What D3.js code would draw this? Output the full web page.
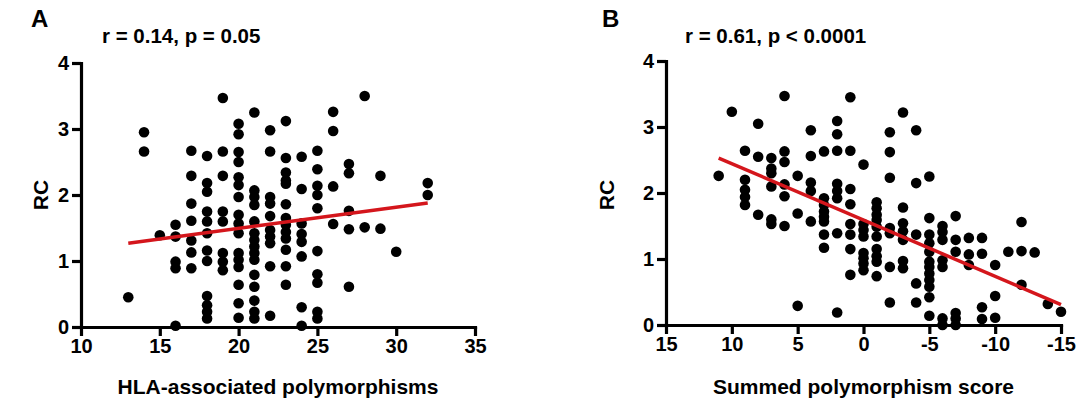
<!DOCTYPE html>
<html><head><meta charset="utf-8">
<script src="https://cdn.jsdelivr.net/npm/d3@7"></script>
<style>
body{margin:0;background:#fff;}
text{font-family:"Liberation Sans",Arial,sans-serif;font-weight:bold;fill:#000;}
</style></head>
<body>
<svg id="c" width="1081" height="402"></svg>
<script>
// ---------- Panel A data (HLA-associated polymorphisms vs RC) ----------
const aCols = [13,14,15,16,17,18,19,20,21,22,23,24,25,26,27,28,29,30,32];
const aRC = [
  [0.45],
  [2.95,2.66],
  [1.39],
  [1.55,1.37,0.99,0.89,0.02],
  [2.67,2.29,1.87,1.61,1.31,1.13,0.89],
  [2.59,2.18,2.05,1.75,1.60,1.42,1.16,1.00,0.47,0.33,0.23,0.13],
  [3.47,2.66,2.29,1.75,1.60,1.12,0.99,0.86],
  [3.08,2.92,2.65,2.50,2.27,2.15,1.97,1.70,1.57,1.42,1.12,1.02,0.91,0.64,0.36,0.14],
  [3.25,2.07,1.97,1.85,1.60,1.42,1.32,1.22,1.12,1.02,0.79,0.61,0.40,0.23,0.13],
  [2.98,2.66,1.97,1.87,1.68,1.47,1.37,1.27,0.92,0.17],
  [3.12,2.56,2.34,2.22,2.17,1.86,1.65,1.55,1.44,1.34,1.17,0.92,0.64],
  [2.58,2.09,1.57,1.41,1.29,1.07,0.30,0.02],
  [2.67,2.39,2.14,2.00,1.80,1.15,0.80,0.67,0.23,0.13],
  [3.26,2.97,2.13,1.56],
  [2.47,2.33,1.76,1.48,0.61],
  [3.50,1.51],
  [2.29,1.49],
  [1.14],
  [2.18,2.00]
];
const aFit = [[13,1.27],[32,1.88]];
const aXTicks = [10,15,20,25,30,35];
const aTitle = "r = 0.14, p = 0.05";
const aXLabel = "HLA-associated polymorphisms";

// ---------- Panel B data (Summed polymorphism score vs RC) ----------
const bCols = [11,10,9,8,7,6,5,4,3,2,1,0,-1,-2,-3,-4,-5,-6,-7,-8,-9,-10,-11,-12,-13,-14,-15];
const bRC = [
  [2.26],
  [3.23],
  [2.64,2.20,2.05,1.94,1.82],
  [3.05,2.55,1.67],
  [2.53,2.37,2.30,2.10,1.60,1.53],
  [3.47,2.63,2.47,2.13,1.95,1.50],
  [2.26,1.69,0.29],
  [2.95,2.56,2.16,2.03,1.57],
  [2.63,1.92,1.82,1.72,1.64,1.57,1.37,1.17],
  [3.09,2.89,2.64,2.14,2.03,1.92,1.39,0.19],
  [3.45,2.64,2.06,1.83,1.53,1.37,1.15,0.76],
  [2.43,1.53,1.44,1.34,1.09,1.01,0.93,0.83],
  [1.86,1.77,1.67,1.59,1.49,1.34,1.15,1.04,0.96,0.74],
  [2.92,2.62,2.23,1.47,1.39,0.88,0.34],
  [3.22,1.78,1.54,1.42,1.29,0.97,0.86],
  [2.95,2.15,1.37,0.63,0.34],
  [2.25,1.62,1.37,1.24,1.11,0.96,0.88,0.78,0.68,0.58,0.42,0.14],
  [1.50,1.41,1.29,0.98,0.88,0.10,0.00],
  [1.65,1.29,1.11,0.18,0.10,0.00],
  [1.32,1.07,0.91],
  [1.32,1.08,0.27,0.09],
  [0.91,0.44,0.11],
  [1.11],
  [1.56,1.12,0.61],
  [1.10],
  [0.32],
  [0.20]
];
const bFit = [[11,2.53],[-15,0.31]];
const bXTicks = [15,10,5,0,-5,-10,-15];
const bTitle = "r = 0.61, p < 0.0001";
const bXLabel = "Summed polymorphism score";

const yTicks = [0,1,2,3,4];
const yLabel = "RC";

const svg = d3.select("#c");

function panel(opt){
  const g = svg.append("g");
  const x = d3.scaleLinear().domain(opt.xDom).range(opt.xRange);
  const y = d3.scaleLinear().domain([0,4]).range(opt.yRange);

  const ax = g.append("g").attr("transform",`translate(0,${opt.yRange[0]})`)
    .call(d3.axisBottom(x).tickValues(opt.xTicks).tickSizeInner(9).tickSizeOuter(0).tickPadding(3)
      .tickFormat(d=>d<0?"-"+Math.abs(d):String(d)));
  const ay = g.append("g").attr("transform",`translate(${opt.xRange[0]},0)`)
    .call(d3.axisLeft(y).tickValues(yTicks).tickSizeInner(9).tickSizeOuter(0).tickPadding(3)
      .tickFormat(d3.format("d")));
  [ax,ay].forEach(a=>{
    a.select(".domain").attr("stroke","#000").attr("stroke-width",3.2).attr("stroke-linecap","square");
    a.selectAll(".tick line").attr("stroke","#000").attr("stroke-width",3.2);
    a.selectAll(".tick text").style("font-size","20px").style("font-weight","bold")
      .style("font-family","'Liberation Sans',Arial,sans-serif").attr("fill","#000");
  });

  const pts = [];
  opt.cols.forEach((c,i)=>opt.vals[i].forEach(v=>pts.push([c,v])));
  g.append("g").selectAll("circle").data(pts).join("circle")
    .attr("cx",d=>x(d[0])).attr("cy",d=>y(d[1])).attr("r",5.3).attr("fill","#000");

  g.append("path").datum(opt.fit)
    .attr("d",d3.line().x(d=>x(d[0])).y(d=>y(d[1])))
    .attr("stroke","#d4161c").attr("stroke-width",3.5).attr("fill","none");

  g.append("text").attr("x",opt.letterX).attr("y",27).style("font-size","24px").text(opt.letter);
  g.append("text").attr("x",opt.titleX).attr("y",43).style("font-size","20.5px").text(opt.title);
  g.append("text").attr("x",(opt.xRange[0]+opt.xRange[1])/2).attr("y",394)
    .attr("text-anchor","middle").style("font-size","21px").text(opt.xLabel);
  g.append("text").attr("transform",`translate(${opt.yLabelX},195) rotate(-90)`)
    .attr("text-anchor","middle").style("font-size","21px").text(yLabel);
}

panel({xDom:[10,35],xRange:[81,475],yRange:[327,63],xTicks:aXTicks,cols:aCols,vals:aRC,fit:aFit,
  letter:"A",letterX:31,title:aTitle,titleX:102,xLabel:aXLabel,yLabelX:48});
panel({xDom:[15,-15],xRange:[666,1061],yRange:[325,61],xTicks:bXTicks,cols:bCols,vals:bRC,fit:bFit,
  letter:"B",letterX:602,title:bTitle,titleX:685,xLabel:bXLabel,yLabelX:614});
</script>
</body></html>
